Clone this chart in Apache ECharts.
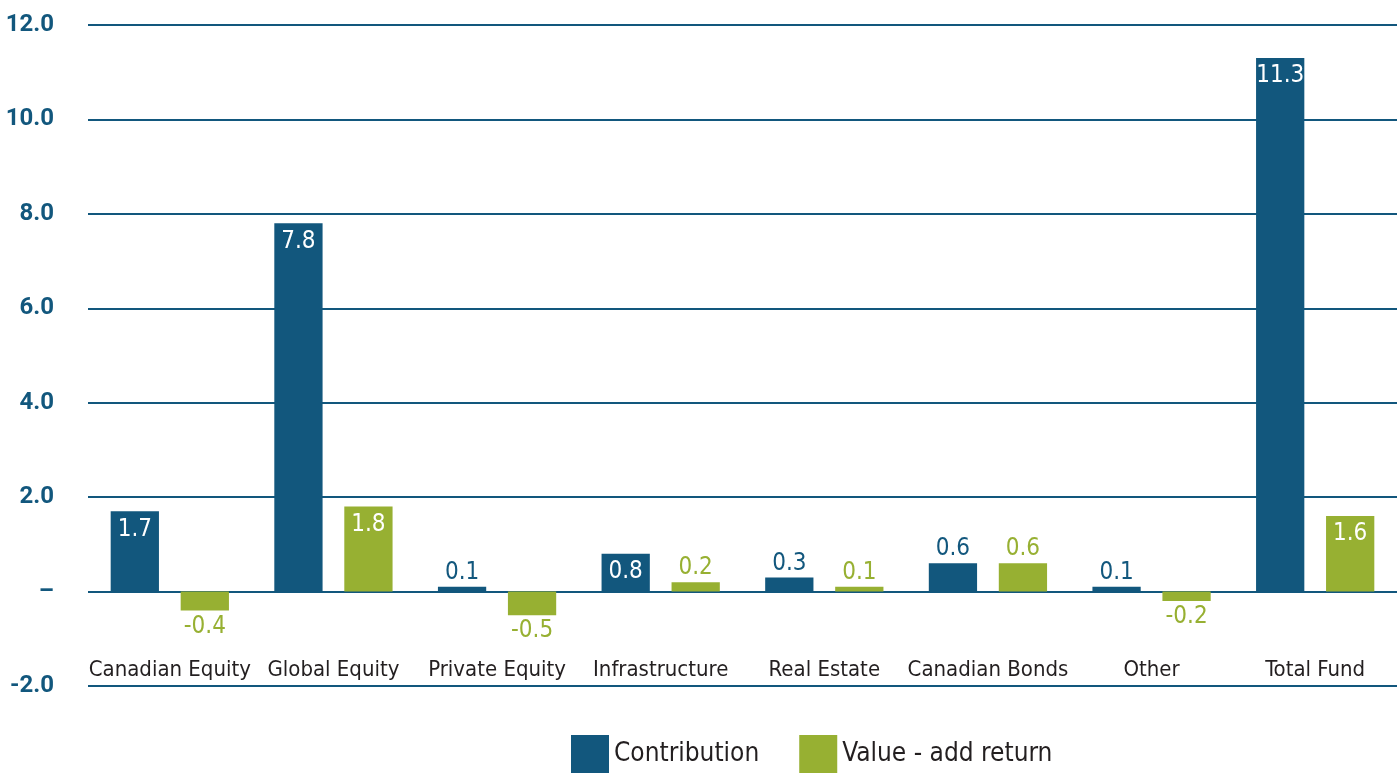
<!DOCTYPE html>
<html>
<head>
<meta charset="utf-8">
<script src="https://cdn.jsdelivr.net/npm/echarts@6/dist/echarts.min.js"></script>
<style>
  html, body { margin: 0; padding: 0; background: #fff; }
  #chart { width: 1399px; height: 776px; }
</style>
</head>
<body>
<div id="chart"></div>
<script>
const categories = ['Canadian Equity', 'Global Equity', 'Private Equity', 'Infrastructure', 'Real Estate', 'Canadian Bonds', 'Other', 'Total Fund'];
const contribution = [1.7, 7.8, 0.1, 0.8, 0.3, 0.6, 0.1, 11.3];
const valueAdd = [-0.4, 1.8, -0.5, 0.2, 0.1, 0.6, -0.2, 1.6];
const seriesNames = ['Contribution', 'Value - add return'];

const blue = '#12577d';
const green = '#97b032';
const narrow = '"Liberation Sans Narrow", "DejaVu Sans Condensed", sans-serif';

// tall bars get a white label inside, short ones sit on top, negatives below
function withLabels(values, color) {
  return values.map(v => {
    let label;
    if (v < 0) {
      label = { position: 'bottom', distance: 4, color: color };
    } else if (v >= 0.7) {
      label = { position: 'insideTop', distance: 6, color: '#fff' };
    } else {
      label = { position: 'top', distance: 2, color: color };
    }
    return { value: v, label: label };
  });
}

const chart = echarts.init(document.getElementById('chart'), null, { renderer: 'canvas' });

const option = {
  backgroundColor: '#fff',
  animation: false,
  color: [blue, green],
  grid: {
    left: 88,
    right: 2,
    top: 25,
    bottom: 90
  },
  legend: {
    bottom: -2,
    left: 566,
    itemWidth: 38,
    itemHeight: 38,
    itemGap: 40,
    icon: 'rect',
    textStyle: {
      fontFamily: narrow,
      fontSize: 26,
      color: '#231f20'
    },
    data: seriesNames
  },
  xAxis: {
    type: 'category',
    data: categories,
    axisLine: { show: false },
    axisTick: { show: false },
    axisLabel: {
      inside: true,
      interval: 0,
      margin: 5,
      fontFamily: narrow,
      fontSize: 22,
      color: '#231f20',
      verticalAlign: 'bottom'
    }
  },
  yAxis: {
    type: 'value',
    min: -2,
    max: 12,
    interval: 2,
    axisLine: { show: false },
    axisTick: { show: false },
    axisLabel: {
      margin: 34,
      fontFamily: 'Roboto, sans-serif',
      fontWeight: 'bold',
      fontSize: 24,
      color: blue,
      formatter: v => (v === 0 ? '–' : v.toFixed(1))
    },
    splitLine: {
      lineStyle: { color: blue, width: 2 }
    }
  },
  series: [
    {
      name: seriesNames[0],
      type: 'bar',
      barWidth: '29.5%',
      barGap: '45%',
      data: withLabels(contribution, blue),
      label: {
        show: true,
        fontFamily: narrow,
        fontSize: 24,
        formatter: p => p.value.toFixed(1)
      }
    },
    {
      name: seriesNames[1],
      type: 'bar',
      barWidth: '29.5%',
      data: withLabels(valueAdd, green),
      label: {
        show: true,
        fontFamily: narrow,
        fontSize: 24,
        formatter: p => p.value.toFixed(1)
      }
    }
  ]
};

chart.setOption(option);
</script>
</body>
</html>
